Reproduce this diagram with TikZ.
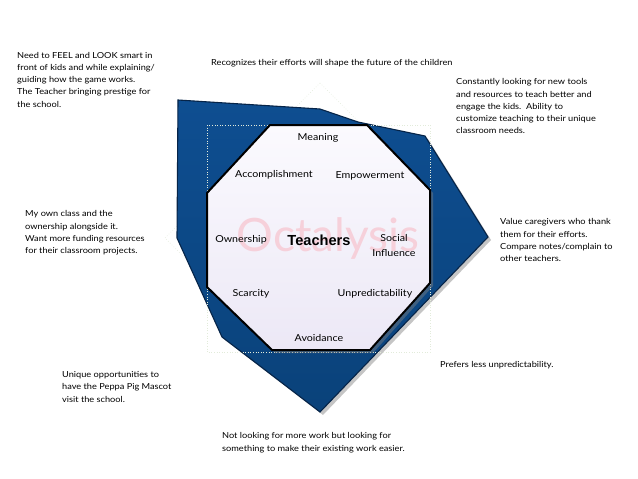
\documentclass[tikz,border=0pt]{standalone}
\usepackage{fontspec}
\setmainfont{Lato}
\newfontfamily\widefont[FakeStretch=1.11]{Lato}
\newfontfamily\headfont{Liberation Sans}
\definecolor{bluefill}{RGB}{14,78,145}
\definecolor{bluedark}{RGB}{10,66,122}
\definecolor{blueline}{RGB}{6,36,72}
\definecolor{octtop}{RGB}{251,250,254}
\definecolor{octbot}{RGB}{236,232,246}
\definecolor{wmark}{RGB}{246,208,218}
\definecolor{faint}{RGB}{226,235,218}
\tikzset{
  note/.style={anchor=north west, inner sep=0pt, align=left, font=\widefont\fontsize{8.3}{12.2}\selectfont},
  octlabel/.style={inner sep=0pt, font=\widefont\fontsize{9.6}{15}\selectfont},
}
\begin{document}
\begin{tikzpicture}[x=1pt,y=-1pt]
\useasboundingbox (0,0) rectangle (638,479);
\fill[white] (0,0) rectangle (638,479);
% faint guide diamond
\draw[faint, dotted, line width=0.6pt] (320,83) -- (475,238) -- (320,393) -- (165,238) -- cycle;
% blue polygon shadow
\fill[black!45, opacity=0.5] (181,103) -- (323,112) -- (361,125) -- (428,139) -- (491,240) -- (323,415) -- (225,340) -- (180,241) -- cycle;
% blue polygon
\shade[top color=bluefill, bottom color=bluedark, draw=blueline, line width=1.1pt, line join=miter]
  (178,100) -- (320,109) -- (358,122) -- (425,136) -- (488,237) -- (320,412) -- (222,337) -- (177,238) -- cycle;
% faint guide rectangle
\draw[faint, dotted, line width=0.6pt] (207,125) rectangle (430,352);
% octagon shadow
\fill[black!50, opacity=0.45] (273,128) -- (370,128) -- (433,193) -- (433,286) -- (373,353) -- (275,353) -- (210,290) -- (210,196) -- cycle;
% octagon
\shade[top color=octtop, bottom color=octbot, draw=black, line width=2pt, line join=miter]
  (270,125) -- (367,125) -- (430,190) -- (430,283) -- (370,350) -- (272,350) -- (207,287) -- (207,193) -- cycle;
% watermark
\node[text=wmark, inner sep=0pt, font=\fontsize{46}{50}\selectfont] (wm) at (328,239) {Octalysis};
% octagon labels
\node[octlabel] (meaning) at (318,138) {Meaning};
\node[octlabel] (accomp) at (274,174.5) {Accomplishment};
\node[octlabel] (empower) at (370,176) {Empowerment};
\node[octlabel] (owner) at (241,239.5) {Ownership};
\node[inner sep=0pt, font=\headfont\bfseries\fontsize{14.6}{16}\selectfont] (teachers) at (319,240.5) {Teachers};
\node[octlabel, align=center] (social) at (394,245.5) {Social\\Influence};
\node[octlabel] (scarcity) at (251,293.5) {Scarcity};
\node[octlabel] (unpred) at (375,293.5) {Unpredictability};
\node[octlabel] (avoid) at (319,338.5) {Avoidance};
% notes
\node[note] (n1) at (17,52) {Need to FEEL and LOOK smart in\\front of kids and while explaining/\\guiding how the game works.\\The Teacher bringing prestige for\\the school.};
\node[note] (n2) at (211,59.5) {Recognizes their efforts will shape the future of the children};
\node[note] (n3) at (456,78.5) {Constantly looking for new tools\\and resources to teach better and\\engage the kids.\ \ Ability to\\customize teaching to their unique\\classroom needs.};
\node[note] (n4) at (25,210.5) {My own class and the\\ownership alongside it.\\Want more funding resources\\for their classroom projects.};
\node[note] (n5) at (500,218.5) {Value caregivers who thank\\them for their efforts.\\Compare notes/complain to\\other teachers.};
\node[note] (n6) at (62,371.5) {Unique opportunities to\\have the Peppa Pig Mascot\\visit the school.};
\node[note] (n7) at (440,361.5) {Prefers less unpredictability.};
\node[note] (n8) at (222,432.5) {Not looking for more work but looking for\\something to make their existing work easier.};
\end{tikzpicture}
\end{document}
